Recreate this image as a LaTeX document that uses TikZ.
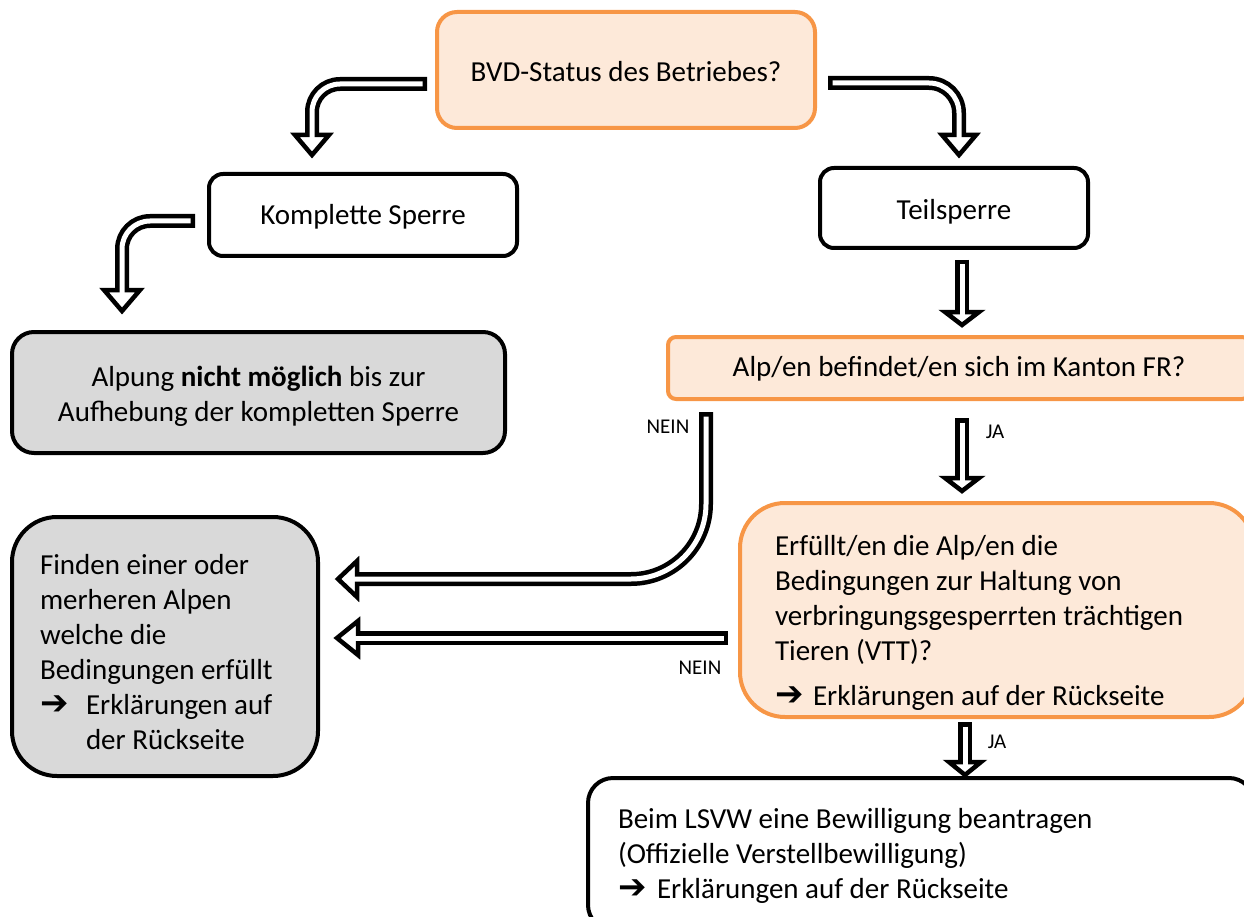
\documentclass[tikz,border=0pt]{standalone}
\usepackage{fontspec}
\setmainfont{Carlito}
\newfontfamily\arrowfont{DejaVu Sans}
\usetikzlibrary{calc}
\definecolor{orgline}{HTML}{F79646}
\definecolor{orgfill}{HTML}{FDE9D9}
\definecolor{grayfill}{HTML}{D9D9D9}
\tikzset{
  box/.style={draw=black, line width=4pt, fill=white, inner sep=0pt},
  obox/.style={draw=orgline, line width=4pt, fill=orgfill, inner sep=0pt},
  gbox/.style={draw=black, line width=4pt, fill=grayfill, inner sep=0pt},
  shaftout/.style={draw=black, line width=14pt},
  shaftin/.style={draw=white, line width=5pt},
  headst/.style={fill=white, draw=black, line width=4.5pt, line join=miter},
  lbl/.style={font=\fontsize{21}{25}\selectfont, inner sep=0pt},
}
\newcommand\arrsym{{\arrowfont\fontsize{34}{34}\selectfont ➔}}
\newcommand\shiftdown[2]{\raisebox{-#1}[\height][\depth]{#2}}
% #1 options, #2 path ending at base, #3 base, #4 tip, #5 half width
\newcommand\harrow[5]{%
  \draw[shaftout,#1] #2;
  \draw[headst] ($(#3)!#5!90:(#4)$) -- (#4) -- ($(#3)!#5!-90:(#4)$) -- cycle;
  \draw[shaftin,#1,shorten <=4.5pt,shorten >=-7pt] #2;
}
\begin{document}
\begin{tikzpicture}[x=1pt,y=-1pt,font=\fontsize{29}{35}\selectfont]
\useasboundingbox (0,0) rectangle (1244,917);

% boxes
\node[obox, rounded corners=20pt, minimum width=378pt, minimum height=116pt] (bvd) at (626,70)
  {\shiftdown{2pt}{BVD-Status des Betriebes?}};
\node[box, rounded corners=14pt, minimum width=308pt, minimum height=82pt] (komp) at (363,215)
  {\shiftdown{2pt}{Komplette Sperre}};
\node[box, rounded corners=14pt, minimum width=268pt, minimum height=80pt] (teil) at (954,208)
  {\shiftdown{4pt}{Teilsperre}};
\node[gbox, rounded corners=22pt, minimum width=493pt, minimum height=121pt] (alpung) at (258.5,392.5)
  {\shiftdown{4pt}{\parbox{480pt}{\centering Alpung \textbf{nicht möglich} bis zur\\Aufhebung der kompletten Sperre}}};
\node[obox, rounded corners=8pt, minimum width=582pt, minimum height=62pt] (alp) at (959,368)
  {\shiftdown{1pt}{Alp/en befindet/en sich im Kanton FR?}};
\node[gbox, rounded corners=45pt, minimum width=306pt, minimum height=259pt] (finden) at (165,646.5)
  {\shiftdown{6pt}{\parbox{250pt}{\raggedright Finden einer oder\\merheren Alpen\\welche die\\Bedingungen erfüllt\\\makebox[46pt][l]{\arrsym}Erklärungen auf\\\hspace*{46pt}der Rückseite}}};
\node[obox, rounded corners=45pt, minimum width=514pt, minimum height=214pt] (erf) at (997,610)
  {\shiftdown{13pt}{\parbox{444pt}{\raggedright Erfüllt/en die Alp/en die\\Bedingungen zur Haltung von\\verbringungsgesperrten trächtigen\\Tieren (VTT)?\\[10pt]\makebox[38pt][l]{\arrsym}Erklärungen auf der Rückseite}}};
\node[box, rounded corners=25pt, minimum width=666pt, minimum height=152pt] (beim) at (921,854)
  {\shiftdown{2pt}{\parbox{606pt}{\raggedright Beim LSVW eine Bewilligung beantragen\\(Offizielle Verstellbewilligung)\\\makebox[39pt][l]{\arrsym}Erklärungen auf der Rückseite}}};

% connector coordinates
\coordinate (a1t) at (427,84);  \coordinate (a1b) at (312,135); \coordinate (a1h) at (312,155);
\coordinate (a2t) at (828,83);  \coordinate (a2b) at (959,135); \coordinate (a2h) at (959,155);
\coordinate (a3t) at (195,221); \coordinate (a3b) at (122,290); \coordinate (a3h) at (122,311);
\coordinate (a4t) at (962,260); \coordinate (a4b) at (962,312); \coordinate (a4h) at (962,325);
\coordinate (a5t) at (962,418); \coordinate (a5b) at (962,478); \coordinate (a5h) at (962,491);
\coordinate (a6t) at (965,722); \coordinate (a6b) at (965,762); \coordinate (a6h) at (965,775);
\coordinate (a7t) at (706,412); \coordinate (a7b) at (357,579); \coordinate (a7h) at (338,579);
\coordinate (a8t) at (728,638); \coordinate (a8b) at (358,638); \coordinate (a8h) at (337,638);

% connectors
\harrow{rounded corners=28pt}{(a1t) -| (a1b)}{a1b}{a1h}{17pt}
\harrow{rounded corners=30pt}{(a2t) -| (a2b)}{a2b}{a2h}{17pt}
\harrow{rounded corners=28pt}{(a3t) -| (a3b)}{a3b}{a3h}{18pt}
\harrow{}{(a4t) -- (a4b)}{a4b}{a4h}{17pt}
\harrow{}{(a5t) -- (a5b)}{a5b}{a5h}{17pt}
\harrow{}{(a6t) -- (a6b)}{a6b}{a6h}{16pt}
\harrow{rounded corners=75pt}{(a7t) |- (a7b)}{a7b}{a7h}{18pt}
\harrow{}{(a8t) -- (a8b)}{a8b}{a8h}{17pt}

% labels
\node[lbl] (nein1) at (668,427) {NEIN};
\node[lbl] (nein2) at (700,668) {NEIN};
\node[lbl] (ja1) at (995,432) {JA};
\node[lbl] (ja2) at (997,742) {JA};
\end{tikzpicture}
\end{document}
